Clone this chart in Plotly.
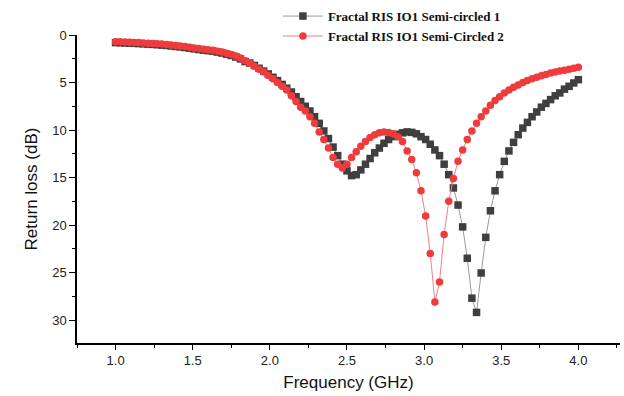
import numpy as np
import plotly.graph_objects as go

freq = [round(1.0 + 0.03 * k, 2) for k in range(101)]

semi1 = [
    0.8, 0.82, 0.84, 0.86, 0.88, 0.9, 0.93, 0.96, 0.99, 1.02,
    1.06, 1.1, 1.15, 1.2, 1.26, 1.32, 1.39, 1.46, 1.53, 1.6,
    1.65, 1.7, 1.8, 1.9, 2.02, 2.16, 2.32, 2.52, 2.8, 2.95,
    3.2, 3.5, 3.8, 4.1, 4.45, 4.8, 5.2, 5.6, 6.0, 6.5,
    7.0, 7.5, 8.0, 8.6, 9.3, 10.1, 10.9, 11.8, 12.7, 13.6,
    14.3, 14.8, 14.7, 14.2, 13.6, 13.0, 12.4, 11.9, 11.4, 11.0,
    10.7, 10.45, 10.3, 10.2, 10.25, 10.4, 10.7, 11.0, 11.5, 12.1,
    12.7, 13.6, 14.7, 16.1, 17.9, 20.2, 23.5, 27.7, 29.2, 25.05,
    21.3, 18.5, 16.4, 14.7, 13.3, 12.2, 11.3, 10.5, 9.8, 9.2,
    8.6, 8.1, 7.6, 7.2, 6.8, 6.4, 6.1, 5.7, 5.4, 5.05,
    4.7,
]

semi2 = [
    0.7, 0.72, 0.74, 0.76, 0.78, 0.8, 0.83, 0.86, 0.89, 0.92,
    0.96, 1.0, 1.05, 1.1, 1.16, 1.22, 1.29, 1.36, 1.43, 1.5,
    1.55, 1.6, 1.7, 1.8, 1.92, 2.06, 2.22, 2.42, 2.7, 2.98,
    3.3, 3.6, 3.9, 4.25, 4.6, 5.0, 5.4, 5.8, 6.4, 7.0,
    7.6, 8.0, 8.6, 9.3, 10.2, 11.0, 11.9, 12.9, 13.6, 14.0,
    13.6, 12.9, 12.3, 11.7, 11.2, 10.8, 10.5, 10.3, 10.2, 10.25,
    10.4, 10.7, 11.2, 12.2, 13.1, 14.5, 16.4, 19.05, 23.0, 28.1,
    26.0, 21.0, 17.5, 15.1, 13.3, 12.1, 11.0, 10.1, 9.3, 8.6,
    8.0, 7.4, 6.9, 6.5, 6.1, 5.8, 5.5, 5.25, 5.0, 4.8,
    4.6, 4.45, 4.3, 4.15, 4.0, 3.9, 3.8, 3.7, 3.6, 3.5,
    3.4,
]

name1 = "<b>Fractal RIS IO1 Semi-circled 1</b>"
name2 = "<b>Fractal RIS IO1 Semi-Circled 2</b>"

fig = go.Figure()
fig.add_trace(go.Scatter(
    x=freq, y=semi1, name=name1, mode="lines+markers",
    line=dict(color="#9a9a9a", width=1),
    marker=dict(symbol="square", size=7.5, color="#3f3f3f"),
))
fig.add_trace(go.Scatter(
    x=freq, y=semi2, name=name2, mode="lines+markers",
    line=dict(color="#f58080", width=1),
    marker=dict(symbol="circle", size=7.5, color="#ef3b3b"),
))

axis_font = dict(family="Liberation Sans, Arial", size=13, color="#222222")
fig.update_layout(
    width=624, height=396,
    margin=dict(l=77, r=4, t=35, b=53, autoexpand=False),
    paper_bgcolor="white", plot_bgcolor="white",
    showlegend=True,
    legend=dict(
        x=0.37, y=1.11, xanchor="left", yanchor="top",
        bgcolor="rgba(0,0,0,0)",
        font=dict(family="Liberation Serif, Times New Roman", size=13, color="#111111"),
        tracegroupgap=0, itemwidth=40,
    ),
    xaxis=dict(
        range=[0.75, 4.27], tickvals=[1.0, 1.5, 2.0, 2.5, 3.0, 3.5, 4.0],
        ticktext=["1.0", "1.5", "2.0", "2.5", "3.0", "3.5", "4.0"],
        ticks="outside", ticklen=5, tickwidth=1.2, tickcolor="black",
        minor=dict(ticks="outside", ticklen=3, tickwidth=1, tickcolor="black", dtick=0.25, tick0=0.75),
        showline=True, linecolor="black", linewidth=1.5,
        showgrid=False, zeroline=False,
        tickfont=axis_font,
        title=dict(text="Frequency (GHz)", font=dict(family="Liberation Sans, Arial", size=17, color="#111111"), standoff=9),
    ),
    yaxis=dict(
        range=[32.42, 0], tickvals=[0, 5, 10, 15, 20, 25, 30],
        ticks="outside", ticklen=6, tickwidth=1.2, tickcolor="black",
        minor=dict(ticks="outside", ticklen=3, tickwidth=1, tickcolor="black", dtick=2.5, tick0=0),
        showline=True, linecolor="black", linewidth=1.5,
        showgrid=False, zeroline=False,
        tickfont=axis_font,
        title=dict(text="Return loss (dB)", font=dict(family="Liberation Sans, Arial", size=17, color="#111111"), standoff=10),
    ),
)

fig.write_html("out.html")
